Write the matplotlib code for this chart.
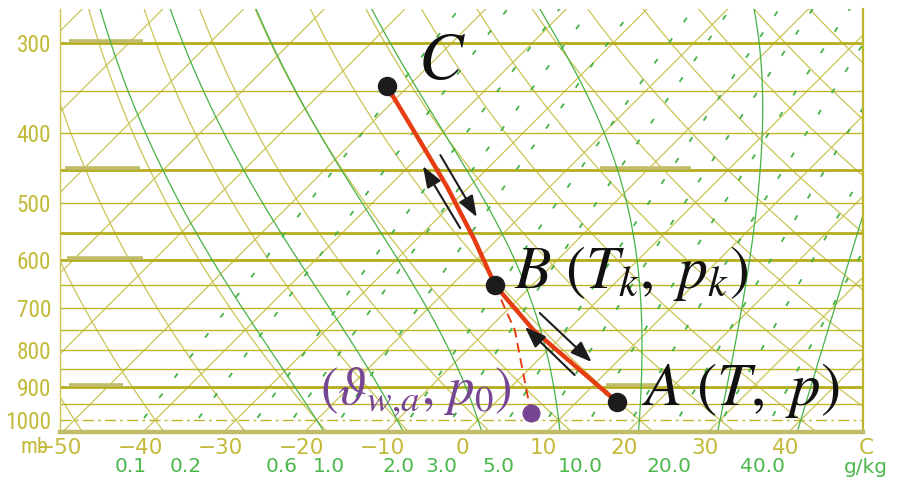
import numpy as np
import matplotlib
matplotlib.use("Agg")
import matplotlib.pyplot as plt
from matplotlib.transforms import Affine2D
from matplotlib.ticker import NullLocator
from matplotlib.textpath import TextPath
from matplotlib import font_manager

# ---------------- diagram frame ----------------
P_BOTTOM, P_TOP = 1039.0, 269.0
T_LEFT, T_RIGHT = -51.86, 47.65      # temperature (deg C) of the frame edges at 1000 hPa
SKEW = 38.8                           # isotherm shift, deg C per unit of ln(p)

isobar_levels = [300, 350, 400, 450, 500, 550, 600, 650, 700, 750, 800, 850, 900, 950, 1000]
heavy_isobars = [300, 450, 550, 600, 900]
pressure_labels = [300, 400, 500, 600, 700, 800, 900, 1000]
isotherms = list(range(-110, 60, 10))
dry_adiabats = list(range(-60, 130, 10))
moist_adiabats = [-20, -10, 0, 10, 20, 30, 40]
mixing_ratios = [0.1, 0.2, 0.4, 0.6, 1.0, 2.0, 3.0, 5.0, 7.0, 10.0, 14.0, 20.0, 28.0, 40.0]
mixing_ratio_labels = [0.1, 0.2, 0.6, 1.0, 2.0, 3.0, 5.0, 10.0, 20.0, 40.0]
temperature_labels = [-50, -40, -30, -20, -10, 0, 10, 20, 30, 40]

# parcel path C -> B -> A (deg C, hPa)
path_T = [-52.7, -40.6, -32.7, -22.7, -14.6, -4.3, 11.0, 15.0]
path_p = [344, 418, 475, 563, 650, 750, 900, 944]
# saturated descent from B down to the reference level
descent_T = [-14.6, -10.5, -6.6, -0.8, 5.7]
descent_p = [650, 700, 750, 850, 978]

point_names = ["C", "B", "A"]
point_T = [-52.7, -14.6, 15.0]
point_p = [344, 650, 944]
ref_T, ref_p = 5.7, 978

arrow_tail_T = [-26.0, -37.5, 6.4, -5.6]
arrow_tail_p = [541.6, 429.0, 866.1, 710.6]
arrow_head_T = [-38.3, -25.3, -5.7, 6.9]
arrow_head_p = [444.3, 522.9, 743.0, 830.9]

# ---------------- colours ----------------
GRID = "#cbc455"
ISOBAR = "#bdb52c"
HEAVY = "#b5ad1e"
BASE = "#c0bc6a"
LABEL = "#c2ba38"
GREEN = "#45b245"
GREEN_LABEL = "#4cb84c"
RED = "#e63c12"
DOT = "#1c1c1c"
PURPLE = "#764593"

plt.rcParams["mathtext.fontset"] = "stix"


def narrow_font():
    """Pick a narrow sans face for the pressure scale, falling back to DejaVu Sans."""
    candidates = [("Liberation Sans Narrow", "normal"), ("Noto Sans", "extra-condensed"),
                  ("Noto Sans", "condensed"), ("Roboto Condensed", "normal"),
                  ("Roboto", "condensed"), ("Open Sans", "condensed"),
                  ("DejaVu Sans", "condensed")]
    for fam, stretch in candidates:
        fp = font_manager.FontProperties(family=fam, stretch=stretch)
        try:
            path = font_manager.findfont(fp, fallback_to_default=False)
        except Exception:
            continue
        name = path.lower()
        if "narrow" in name or "condensed" in name:
            return font_manager.FontProperties(fname=path)
    return font_manager.FontProperties(family="DejaVu Sans")


press_font = narrow_font()
ext = TextPath((0, 0), "1000", prop=press_font, size=1).get_extents()
press_px = min(43.0 / ext.width, 19.0 / ext.height)
press_font.set_size(press_px * 0.72)


def sat_vapour_pressure(tc):
    return 6.112 * np.exp(17.67 * tc / (tc + 243.5))


def pseudo_adiabat(theta_w):
    def rate(tk, lnp):
        p = np.exp(lnp)
        e = sat_vapour_pressure(tk - 273.15)
        r = 0.622 * e / (p - e)
        return (287.04 * tk + 2.501e6 * r) / (1005.7 + 2.501e6 ** 2 * r * 0.622 / (287.04 * tk ** 2))

    parts = []
    for end in (np.log(250.0), np.log(1060.0)):
        lnp = np.linspace(np.log(1000.0), end, 160)
        tk = theta_w + 273.15
        temps = [tk]
        for a, b in zip(lnp[:-1], lnp[1:]):
            h = b - a
            k1 = rate(tk, a)
            k2 = rate(tk + h * k1 / 2, a + h / 2)
            k3 = rate(tk + h * k2 / 2, a + h / 2)
            k4 = rate(tk + h * k3, b)
            tk = tk + h * (k1 + 2 * k2 + 2 * k3 + k4) / 6
            temps.append(tk)
        parts.append((np.exp(lnp), np.array(temps) - 273.15))
    (p_up, t_up), (p_dn, t_dn) = parts
    return np.concatenate([p_dn[::-1], p_up[1:]]), np.concatenate([t_dn[::-1], t_up[1:]])


def dewpoint_for_mixing_ratio(w, p):
    e = w * p / (622.0 + w)
    g = np.log(e / 6.112)
    return 243.5 * g / (17.67 - g)


fig = plt.figure(figsize=(8.99, 4.82), dpi=100)
fig.patch.set_facecolor("white")
ax = fig.add_axes([59.5 / 899, 50 / 482, 803 / 899, 423 / 482])
ax.set_yscale("log")
ax.set_xlim(T_LEFT, T_RIGHT)
ax.set_ylim(P_BOTTOM, P_TOP)
ax.yaxis.set_minor_locator(NullLocator())
ax.set_yticks(pressure_labels)
ax.set_yticklabels([str(p) for p in pressure_labels])
ax.set_xticks([])
ax.tick_params(axis="y", length=0, pad=6, labelcolor=LABEL)
for lab in ax.get_yticklabels():
    lab.set_fontproperties(press_font)

ax.spines["top"].set_visible(False)
ax.spines["left"].set_color(GRID)
ax.spines["left"].set_linewidth(1.0)
ax.spines["right"].set_color(ISOBAR)
ax.spines["right"].set_linewidth(1.6)
ax.spines["bottom"].set_color(BASE)
ax.spines["bottom"].set_linewidth(3.2)

# skewed (T, p) -> display transform
span = np.log(P_BOTTOM / P_TOP)
s = SKEW * span / (T_RIGHT - T_LEFT)
y0 = np.log(P_BOTTOM / 1000.0) / span
skew = (ax.transScale + ax.transLimits
        + Affine2D(np.array([[1.0, s, -s * y0], [0.0, 1.0, 0.0], [0.0, 0.0, 1.0]]))
        + ax.transAxes)

pgrid = np.geomspace(1060, 250, 240)

for t in isotherms:
    ax.plot(np.full_like(pgrid, t), pgrid, color=GRID, lw=0.9, transform=skew, zorder=1)
for th in dry_adiabats:
    T = (th + 273.15) * (pgrid / 1000.0) ** 0.2857 - 273.15
    ax.plot(T, pgrid, color=GRID, lw=0.9, transform=skew, zorder=1)

for p in isobar_levels:
    if p == 1000:
        ax.axhline(p, color=ISOBAR, lw=1.0, ls=(0, (8, 3, 2, 3)), zorder=1.5)
    elif p in heavy_isobars:
        ax.axhline(p, color=HEAVY, lw=2.0, zorder=1.5)
    else:
        ax.axhline(p, color=ISOBAR, lw=1.0, zorder=1.5)

# faded plotting marks left on a few levels
ytrans = ax.get_yaxis_transform()
for p, x0, x1 in [(300, 0.012, 0.104), (450, 0.007, 0.100), (600, 0.009, 0.104),
                  (900, 0.012, 0.079), (450, 0.673, 0.787), (900, 0.681, 0.745)]:
    ax.plot([x0, x1], [p * 0.992, p * 0.992], color=BASE, lw=2.6, transform=ytrans,
            solid_capstyle="butt", zorder=1.6)

for tw in moist_adiabats:
    pp, tt = pseudo_adiabat(tw)
    ax.plot(tt, pp, color=GREEN, lw=0.9, transform=skew, zorder=2)

for w in mixing_ratios:
    ax.plot(dewpoint_for_mixing_ratio(w, pgrid), pgrid, color=GREEN, lw=1.3,
            dashes=(3, 11), transform=skew, zorder=2)

# axis annotations below the frame
xt = ax.get_xaxis_transform()
shift_1050 = SKEW * np.log(1000.0 / 1050.0)
for t in temperature_labels:
    ax.text(t + shift_1050, -0.037, f"{t}".replace("-", "\u2212"), transform=xt,
            ha="center", va="center", fontsize=15.5, color=LABEL, fontfamily="DejaVu Sans")
ax.text(50 + shift_1050, -0.037, "C", transform=xt, ha="center", va="center",
        fontsize=15.5, color=LABEL, fontfamily="DejaVu Sans")
mb_font = press_font.copy()
mb_font.set_size(press_font.get_size() * 0.95)
ax.text(-0.031, -0.037, "mb", transform=ax.transAxes, ha="center", va="center",
        color=LABEL, fontproperties=mb_font)
for w in mixing_ratio_labels:
    ax.text(dewpoint_for_mixing_ratio(w, 1050.0) + shift_1050, -0.082, f"{w:.1f}",
            transform=xt, ha="center", va="center", fontsize=14.5, color=GREEN_LABEL,
            fontfamily="DejaVu Sans")
ax.text(50 + shift_1050, -0.084, "g/kg", transform=xt, ha="center", va="center",
        fontsize=14.5, color=GREEN_LABEL, fontfamily="DejaVu Sans")

# parcel path
ax.plot(path_T, path_p, color=RED, lw=3.2, transform=skew, zorder=4,
        solid_capstyle="round", solid_joinstyle="round")
ax.plot(descent_T, descent_p, color=RED, lw=1.4, dashes=(5, 3), transform=skew, zorder=4)

for tt, tp, ht, hp in zip(arrow_tail_T, arrow_tail_p, arrow_head_T, arrow_head_p):
    ax.annotate("", xy=(ht, hp), xycoords=skew, xytext=(tt, tp), textcoords=skew,
                arrowprops=dict(arrowstyle="-|>,head_length=0.65,head_width=0.24",
                                color=DOT, lw=1.5, mutation_scale=20,
                                shrinkA=0, shrinkB=0), zorder=5)

ax.plot(point_T, point_p, "o", ms=13, color=DOT, transform=skew, zorder=6, clip_on=False)
ax.plot([ref_T], [ref_p], "o", ms=12, color=PURPLE, transform=skew, zorder=6, clip_on=False)

labels = {
    "C": (r"$C$", (40, 19), "center", "center", 48),
    "B": (r"$B\ (T_k,\ p_k)$", (14, -2), "left", "baseline", 43),
    "A": (r"$A\ (T,\ p)$", (17, -2), "left", "baseline", 44),
}
for name, t, p in zip(point_names, point_T, point_p):
    txt, off, ha, va, size = labels[name]
    ax.annotate(txt, xy=(t, p), xycoords=skew, xytext=off, textcoords="offset points",
                ha=ha, va=va, fontsize=size, color="#111111", zorder=7)
ax.annotate(r"$(\vartheta_{w{,}a}{,}\ p_0)$", xy=(ref_T, ref_p), xycoords=skew,
            xytext=(-14, 7), textcoords="offset points", ha="right", va="baseline",
            fontsize=38, color=PURPLE, zorder=7)

fig.savefig("out.png", dpi=100, facecolor="white")
